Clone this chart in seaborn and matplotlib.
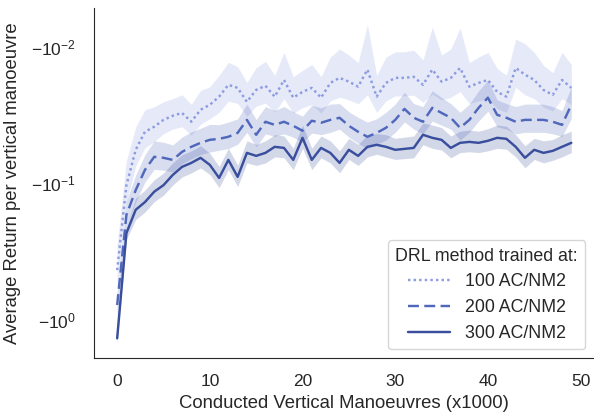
import numpy as np
import pandas as pd
import seaborn as sns
import matplotlib.pyplot as plt

# Conducted vertical manoeuvres (x1000)
steps = list(range(50))

# Mean return per vertical manoeuvre for each training density
ret_100 = [-0.431, -0.103, -0.0568, -0.0419, -0.0385, -0.0343, -0.0320, -0.0305, -0.0354, -0.0289,
           -0.0266, -0.0232, -0.0190, -0.0200, -0.0253, -0.0207, -0.0193, -0.0232, -0.0175, -0.0236,
           -0.0214, -0.0200, -0.0236, -0.0184, -0.0169, -0.0180, -0.0196, -0.0147, -0.0232, -0.0184,
           -0.0169, -0.0169, -0.0166, -0.0190, -0.0147, -0.0180, -0.0169, -0.0143, -0.0196, -0.0184,
           -0.0175, -0.0214, -0.0232, -0.0143, -0.0160, -0.0175, -0.0207, -0.0225, -0.0175, -0.0200]
ret_200 = [-0.776, -0.170, -0.112, -0.0796, -0.0639, -0.0650, -0.0673, -0.0588, -0.0540, -0.0505,
           -0.0480, -0.0472, -0.0456, -0.0427, -0.0343, -0.0441, -0.0354, -0.0373, -0.0354, -0.0379,
           -0.0412, -0.0348, -0.0360, -0.0343, -0.0331, -0.0379, -0.0419, -0.0456, -0.0427, -0.0392,
           -0.0343, -0.0285, -0.0331, -0.0354, -0.0280, -0.0305, -0.0331, -0.0392, -0.0343, -0.0280,
           -0.0236, -0.0315, -0.0331, -0.0354, -0.0343, -0.0343, -0.0343, -0.0354, -0.0373, -0.0266]
ret_300 = [-1.36, -0.231, -0.156, -0.137, -0.115, -0.103, -0.0867, -0.0757, -0.0708, -0.0650,
           -0.0732, -0.0912, -0.0673, -0.0896, -0.0598, -0.0629, -0.0598, -0.0540, -0.0550, -0.0673,
           -0.0464, -0.0673, -0.0550, -0.0598, -0.0708, -0.0568, -0.0629, -0.0540, -0.0522, -0.0540,
           -0.0568, -0.0559, -0.0550, -0.0441, -0.0464, -0.0480, -0.0550, -0.0505, -0.0497, -0.0505,
           -0.0488, -0.0464, -0.0472, -0.0540, -0.0650, -0.0568, -0.0598, -0.0578, -0.0540, -0.0505]

# 95% confidence half-widths around each mean
ci_100 = [0.15, 0.035, 0.018, 0.013, 0.011, 0.009, 0.008, 0.008, 0.009, 0.008,
          0.007, 0.007, 0.006, 0.006, 0.007, 0.0065, 0.0065, 0.007, 0.0065, 0.007,
          0.0065, 0.0065, 0.007, 0.0065, 0.0065, 0.0065, 0.0065, 0.0078, 0.007, 0.0065,
          0.006, 0.006, 0.006, 0.0065, 0.0075, 0.0065, 0.0065, 0.007, 0.0065, 0.0065,
          0.0065, 0.007, 0.007, 0.0055, 0.0065, 0.0065, 0.007, 0.007, 0.0065, 0.0065]
ci_200 = [0.15, 0.035, 0.025, 0.018, 0.015, 0.015, 0.015, 0.013, 0.012, 0.011,
          0.011, 0.010, 0.010, 0.009, 0.008, 0.010, 0.008, 0.008, 0.008, 0.008,
          0.009, 0.008, 0.008, 0.008, 0.007, 0.008, 0.009, 0.010, 0.009, 0.009,
          0.008, 0.007, 0.007, 0.008, 0.007, 0.007, 0.007, 0.009, 0.008, 0.007,
          0.006, 0.007, 0.007, 0.008, 0.008, 0.008, 0.008, 0.008, 0.008, 0.007]
ci_300 = [0.12, 0.025, 0.028, 0.025, 0.021, 0.019, 0.016, 0.014, 0.013, 0.012,
          0.013, 0.016, 0.012, 0.016, 0.011, 0.011, 0.011, 0.010, 0.010, 0.012,
          0.009, 0.012, 0.010, 0.011, 0.013, 0.010, 0.011, 0.010, 0.009, 0.010,
          0.010, 0.010, 0.010, 0.008, 0.009, 0.009, 0.010, 0.009, 0.009, 0.009,
          0.009, 0.009, 0.009, 0.010, 0.012, 0.010, 0.011, 0.010, 0.010, 0.009]

labels = ["100 AC/NM2", "200 AC/NM2", "300 AC/NM2"]
means = [ret_100, ret_200, ret_300]
cis = [ci_100, ci_200, ci_300]

colors = ["#8d9be0", "#5068bb", "#3a4e9e"]
palette = dict(zip(labels, colors))
dashes = {labels[0]: (1, 1.3), labels[1]: (4.5, 2.2), labels[2]: ""}

sns.set_style("white")
plt.rcParams["font.family"] = ["Liberation Sans", "DejaVu Sans"]
plt.rcParams["xtick.major.pad"] = 8
plt.rcParams["ytick.major.pad"] = 10

df = pd.concat(
    [pd.DataFrame({"step": steps, "ret": m, "density": lab}) for m, lab in zip(means, labels)],
    ignore_index=True,
)

fig, ax = plt.subplots(figsize=(5.94, 4.16), dpi=100)
fig.subplots_adjust(left=0.159, right=1.0, bottom=0.139, top=0.981)

for m, c, col in zip(means, cis, colors):
    m = np.asarray(m)
    c = np.asarray(c)
    ax.fill_between(steps, m - c, m + c, color=col, alpha=0.22, linewidth=0, zorder=1)

sns.lineplot(data=df, x="step", y="ret", hue="density", style="density",
             palette=palette, dashes=dashes, errorbar=None, linewidth=1.75, ax=ax)

ax.set_yscale("symlog", linthresh=1e-3)
ax.set_ylim(-1.9, -0.0052)
ax.set_xticks([0, 10, 20, 30, 40, 50])
ax.tick_params(labelsize=12.5, colors=".15")
ax.set_xlabel("Conducted Vertical Manoeuvres (x1000)", fontsize=13.3, color=".15")
ax.set_ylabel("Average Return per vertical manoeuvre", fontsize=13.3, color=".15")
ax.yaxis.set_label_coords(-0.147, 0.5)
sns.despine(ax=ax)

ax.legend(title="DRL method trained at:", loc="lower right", fontsize=12.8,
          title_fontsize=12.8, handlelength=2.4)

fig.savefig("out.png", dpi=100)
